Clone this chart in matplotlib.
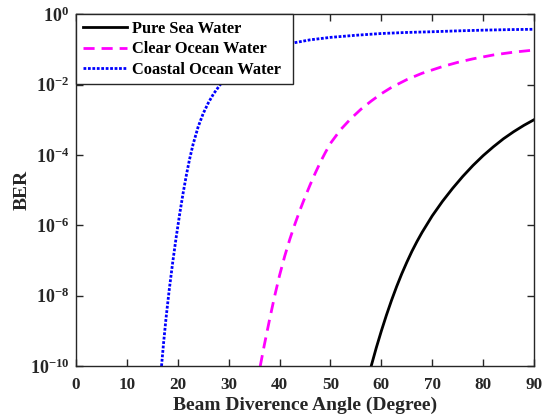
import matplotlib
matplotlib.use('Agg')
import matplotlib.pyplot as plt
import numpy as np

# Curve data (x in degrees, y as log10(BER))
pure_x = [58, 59, 60, 61, 62, 63, 64, 65, 66, 67, 68, 70, 72, 74, 76, 78, 80, 82, 84, 86, 88, 90]
pure_logber = [-10.0, -9.48, -9.0, -8.55, -8.13, -7.74, -7.38, -7.05, -6.74, -6.46, -6.2, -5.73,
               -5.32, -4.95, -4.61, -4.3, -4.02, -3.77, -3.54, -3.34, -3.16, -3.0]

clear_x = [36.2, 37, 38, 39, 40, 41, 42, 43, 44, 45, 46, 47, 48, 49, 50, 52, 54, 56, 58, 60,
           62, 65, 68, 72, 75, 78, 82, 86, 90]
clear_logber = [-10.0, -9.4, -8.7, -8.03, -7.42, -6.88, -6.4, -5.97, -5.57, -5.2, -4.85, -4.52,
                -4.21, -3.93, -3.67, -3.28, -2.97, -2.70, -2.47, -2.26, -2.08, -1.86, -1.68,
                -1.49, -1.37, -1.27, -1.16, -1.08, -1.02]

coastal_x = [16.8, 17.2, 17.7, 18.3, 19.0, 19.7, 20.4, 21.0, 21.7, 22.3, 23.0, 24.0, 25.0, 26.0,
             27.0, 28.5, 30, 32, 34, 36, 38, 40, 43, 46, 50, 55, 60, 65, 70, 75, 80, 85, 90]
coastal_logber = [-10.0, -9.35, -8.62, -7.85, -7.05, -6.32, -5.65, -5.12, -4.56, -4.13, -3.7,
                  -3.2, -2.82, -2.52, -2.27, -1.97, -1.73, -1.47, -1.27, -1.11, -0.99, -0.9,
                  -0.81, -0.73, -0.66, -0.6, -0.55, -0.52, -0.5, -0.475, -0.455, -0.44, -0.43]

series_labels = ["Pure Sea Water", "Clear Ocean Water", "Coastal Ocean Water"]
x_ticks = [0, 10, 20, 30, 40, 50, 60, 70, 80, 90]
y_ticks = [1e-10, 1e-8, 1e-6, 1e-4, 1e-2, 1e0]
y_tick_labels = [r'$\mathbf{10^{-10}}$', r'$\mathbf{10^{-8}}$', r'$\mathbf{10^{-6}}$',
                 r'$\mathbf{10^{-4}}$', r'$\mathbf{10^{-2}}$', r'$\mathbf{10^{0}}$']

plt.rcParams['font.family'] = ['Liberation Serif', 'DejaVu Serif']
plt.rcParams['font.weight'] = 'bold'
plt.rcParams['mathtext.fontset'] = 'custom'
plt.rcParams['mathtext.rm'] = 'Liberation Serif'
plt.rcParams['mathtext.bf'] = 'Liberation Serif:bold'

axis_color = '#262626'

fig = plt.figure(figsize=(5.43, 4.16), dpi=100)
ax = fig.add_axes([0.140, 0.120, 0.8435, 0.846])

ax.plot(pure_x, 10 ** np.array(pure_logber), color='black', linewidth=2.0, linestyle='-',
        label=series_labels[0])
ax.plot(clear_x, 10 ** np.array(clear_logber), color='magenta', linewidth=2.0,
        linestyle=(0, (4, 2.5)), label=series_labels[1])
ax.plot(coastal_x, 10 ** np.array(coastal_logber), color='blue', linewidth=2.0,
        linestyle=(0, (1, 0.6)), label=series_labels[2])

ax.set_yscale('log')
ax.set_xlim(0, 90)
ax.set_ylim(1e-10, 1e0)
ax.set_xticks(x_ticks)
ax.set_xticklabels([str(t) for t in x_ticks])
ax.set_yticks(y_ticks)
ax.set_yticklabels(y_tick_labels)
ax.yaxis.set_minor_locator(matplotlib.ticker.NullLocator())

ax.tick_params(axis='both', which='major', direction='in', length=5, width=1.0,
               top=True, right=True, colors=axis_color)
ax.tick_params(axis='x', pad=8, labelsize=12.3)
ax.tick_params(axis='y', pad=5, labelsize=13)
for sp in ax.spines.values():
    sp.set_color(axis_color)
    sp.set_linewidth(1.0)

ax.set_xlabel("Beam Diverence Angle (Degree)", fontsize=14, fontweight='bold',
              color=axis_color)
ax.xaxis.set_label_coords(0.5, -0.088)
ax.set_ylabel("BER", fontsize=14, fontweight='bold', color=axis_color)
ax.yaxis.set_label_coords(-0.098, 0.5)

# legend box stretched to the width seen in the reference
leg = ax.legend(loc='upper left', bbox_to_anchor=(0.0, 0.0, 0.474, 1.0), mode='expand',
                fontsize=11.8, frameon=True, fancybox=False,
                borderaxespad=0.0, handlelength=2.7, handletextpad=0.3,
                labelspacing=0.28, borderpad=0.4)
leg.get_frame().set_edgecolor(axis_color)
leg.get_frame().set_linewidth(1.0)
leg.get_frame().set_alpha(1.0)

plt.savefig("out.png", dpi=100)
